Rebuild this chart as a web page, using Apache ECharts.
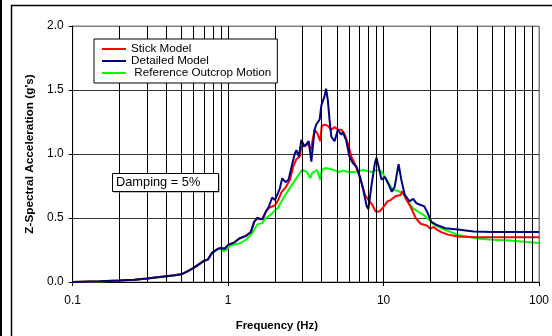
<!DOCTYPE html>
<html>
<head>
<meta charset="utf-8">
<script src="https://cdn.jsdelivr.net/npm/echarts@6/dist/echarts.min.js"></script>
<style>
html,body{margin:0;padding:0;background:#fff;}
#chart{width:552px;height:336px;}
</style>
</head>
<body>
<div id="chart"></div>
<script>
// ---- Data (frequency in Hz, spectral acceleration in g) ----
var stickFreq = [0.1,0.15,0.2,0.25,0.3,0.35,0.4,0.45,0.5,0.55,0.6,0.65,0.7,0.74,0.79,0.86,0.9,0.95,1.0,1.1,1.18,1.3,1.4,1.47,1.54,1.6,1.66,1.75,1.83,1.92,2.0,2.1,2.2,2.35,2.5,2.62,2.75,2.89,2.96,3.1,3.27,3.4,3.6,3.75,3.85,3.92,4.0,4.2,4.38,4.6,4.84,5.1,5.35,5.6,5.9,6.2,6.5,6.8,7.2,7.6,7.9,8.5,8.9,9.4,9.9,10.6,11.1,11.9,12.9,13.2,13.9,14.9,16.1,17.3,19.1,20.0,21.0,22.0,23.5,26,30,40,60,100];
var stickVal  = [0,0.005,0.012,0.018,0.027,0.037,0.045,0.052,0.06,0.085,0.11,0.14,0.165,0.175,0.23,0.26,0.265,0.26,0.29,0.31,0.34,0.36,0.39,0.47,0.5,0.49,0.49,0.55,0.58,0.59,0.60,0.64,0.70,0.74,0.80,0.90,0.96,0.98,1.06,1.06,1.08,1.03,1.19,1.16,1.17,1.10,1.22,1.23,1.22,1.19,1.21,1.19,1.19,1.16,1.08,0.98,0.93,0.87,0.78,0.68,0.65,0.60,0.55,0.55,0.58,0.63,0.64,0.67,0.68,0.71,0.65,0.59,0.50,0.455,0.44,0.415,0.43,0.41,0.39,0.37,0.355,0.35,0.35,0.35];

var detailFreq = [0.1,0.15,0.2,0.25,0.3,0.35,0.4,0.45,0.5,0.55,0.6,0.65,0.7,0.74,0.79,0.86,0.9,0.95,1.0,1.1,1.18,1.3,1.4,1.47,1.54,1.66,1.75,1.83,1.92,2.0,2.15,2.23,2.34,2.45,2.56,2.68,2.75,2.85,2.96,3.1,3.3,3.43,3.6,3.69,3.88,3.98,4.17,4.27,4.38,4.49,4.61,4.84,5.08,5.34,5.46,5.74,6.03,6.34,6.7,7.06,7.4,7.8,7.98,8.4,8.8,9.0,9.3,9.7,10.2,10.7,11.3,11.8,12.2,12.5,13.0,13.7,14.7,15.5,16.3,17.5,18.3,19.2,20.3,22,25,30,38,50,100];
var detailVal  = [0,0.005,0.012,0.018,0.027,0.037,0.045,0.052,0.06,0.085,0.11,0.14,0.165,0.175,0.23,0.26,0.265,0.26,0.29,0.31,0.34,0.36,0.39,0.47,0.5,0.49,0.55,0.59,0.66,0.64,0.73,0.81,0.78,0.80,0.90,1.0,1.03,0.98,1.11,1.06,1.10,0.94,1.19,1.23,1.27,1.38,1.45,1.51,1.42,1.27,1.135,1.10,1.19,1.15,1.17,1.11,0.98,0.93,0.90,0.82,0.72,0.59,0.57,0.77,0.93,0.97,0.90,0.80,0.82,0.77,0.705,0.745,0.85,0.92,0.80,0.68,0.63,0.65,0.615,0.60,0.59,0.54,0.47,0.445,0.42,0.41,0.395,0.39,0.39];

var refFreq = [0.1,0.15,0.2,0.25,0.3,0.35,0.4,0.45,0.5,0.55,0.6,0.65,0.7,0.74,0.79,0.86,0.9,0.93,0.97,1.02,1.07,1.18,1.3,1.43,1.54,1.66,1.74,1.88,2.0,2.1,2.23,2.45,2.71,2.85,2.99,3.21,3.38,3.46,3.73,3.92,4.01,4.22,4.65,5.13,5.5,6.0,6.5,7.0,7.4,8.0,8.4,9.0,9.6,10.2,10.7,11.3,11.8,12.7,13.7,14.3,15.5,16.7,18.3,19.8,21.3,24.6,29.7,40,50,65,80,100];
var refVal  = [0,0.004,0.011,0.017,0.025,0.035,0.043,0.05,0.06,0.083,0.11,0.135,0.17,0.175,0.225,0.255,0.26,0.24,0.25,0.28,0.29,0.30,0.33,0.38,0.45,0.46,0.50,0.525,0.56,0.58,0.64,0.72,0.80,0.84,0.875,0.86,0.81,0.85,0.875,0.80,0.875,0.89,0.88,0.86,0.87,0.86,0.86,0.87,0.875,0.865,0.86,0.875,0.87,0.82,0.78,0.73,0.72,0.705,0.68,0.63,0.575,0.55,0.52,0.48,0.445,0.41,0.37,0.34,0.33,0.325,0.315,0.305];

var seriesNames = ['Stick Model', 'Detailed Model', ' Reference Outcrop Motion'];
var xTickLabels = ['0.1', '1', '10', '100'];
var decadeStarts = [0.1, 1, 10];
var minorMultipliers = [2, 3, 4, 5, 6, 7, 8, 9];

function pairs(f, v) { return f.map(function (x, i) { return [x, v[i]]; }); }

var minorLines = [];
decadeStarts.forEach(function (d) {
  minorMultipliers.forEach(function (m) { minorLines.push({ xAxis: +(d * m).toPrecision(3) }); });
});

var FONT = 'Liberation Sans, Arial, sans-serif';
var chart = echarts.init(document.getElementById('chart'), null, { renderer: 'canvas' });

chart.setOption({
  animation: false,
  backgroundColor: '#fff',
  grid: {
    left: 72.7, right: 10.3, top: 26, bottom: 54,
    show: true, borderColor: '#808080', borderWidth: 1, backgroundColor: 'transparent'
  },
  legend: {
    data: seriesNames,
    left: 94, top: 39,
    orient: 'vertical',
    padding: [4, 6, 4, 8],
    itemGap: 0,
    itemWidth: 24,
    itemHeight: 2,
    itemTextGap: 2,
    icon: 'rect',
    backgroundColor: '#fff',
    borderColor: '#000',
    borderWidth: 1,
    textStyle: { fontFamily: FONT, fontSize: 11.7, lineHeight: 12, color: '#000' },
    z: 10
  },
  xAxis: {
    type: 'log', logBase: 10, min: 0.1, max: 100,
    name: 'Frequency (Hz)', nameLocation: 'middle', nameGap: 38,
    nameTextStyle: { fontFamily: FONT, fontSize: 11.4, fontWeight: 'bold', color: '#000', padding: [0, 58, 0, 0] },
    axisLine: { show: true, lineStyle: { color: '#000', width: 1 } },
    axisTick: { show: true, length: 4, lineStyle: { color: '#000' } },
    axisLabel: {
      fontFamily: FONT, fontSize: 12, color: '#000', margin: 13,
      formatter: function (v) {
        var idx = Math.round(Math.log10(v) + 1);
        return xTickLabels[idx] !== undefined ? xTickLabels[idx] : '';
      }
    },
    splitLine: { show: true, lineStyle: { color: ['#000', '#000', '#000', '#808080'], width: 1 } },
    minorTick: { show: false }
  },
  yAxis: {
    type: 'value', min: 0, max: 2, interval: 0.5,
    name: "Z-Spectral Acceleration (g's)", nameLocation: 'middle', nameGap: 34,
    nameTextStyle: { fontFamily: FONT, fontSize: 11.8, fontWeight: 'bold', color: '#000' },
    axisLine: { show: true, lineStyle: { color: '#000', width: 1 } },
    axisTick: { show: true, length: 4, lineStyle: { color: '#000' } },
    axisLabel: {
      fontFamily: FONT, fontSize: 12, color: '#000', margin: 9,
      formatter: function (v) { return v.toFixed(1); }
    },
    splitLine: { show: true, lineStyle: { color: ['#000', '#333', '#333', '#333', '#808080'], width: 1 } }
  },
  series: [
    {
      name: 'grid-minor', type: 'line', data: [], silent: true, z: 1,
      markLine: {
        silent: true, symbol: ['none', 'none'], animation: false,
        label: { show: false },
        lineStyle: { color: '#000', width: 1, type: 'solid' },
        emphasis: { disabled: true },
        data: minorLines
      }
    },
    {
      name: seriesNames[0], type: 'line', data: pairs(stickFreq, stickVal),
      showSymbol: false, symbol: 'none', color: '#ff0000',
      lineStyle: { color: '#ff0000', width: 2 }, z: 3
    },
    {
      name: seriesNames[1], type: 'line', data: pairs(detailFreq, detailVal),
      showSymbol: false, symbol: 'none', color: '#000080',
      lineStyle: { color: '#000080', width: 2 }, z: 4
    },
    {
      name: seriesNames[2], type: 'line', data: pairs(refFreq, refVal),
      showSymbol: false, symbol: 'none', color: '#00ff00',
      lineStyle: { color: '#00ff00', width: 2 }, z: 2
    }
  ],
  graphic: [
    { type: 'rect', z: 100, shape: { x: 0, y: 0, width: 2, height: 336 }, style: { fill: '#000' } },
    { type: 'rect', z: 100, shape: { x: 11.5, y: 5.5, width: 600, height: 400 }, style: { fill: 'none', stroke: '#000', lineWidth: 1.5 } },
    { type: 'rect', z: 100, shape: { x: 113.5, y: 174.5, width: 106, height: 18 }, style: { fill: '#808080' } },
    { type: 'rect', z: 101, shape: { x: 112.5, y: 173.5, width: 106, height: 18 }, style: { fill: '#fff', stroke: '#000', lineWidth: 1 } },
    { type: 'text', z: 102, x: 116, y: 182.5, style: { text: 'Damping = 5%', fontFamily: FONT, fontSize: 12.8, fill: '#000', textVerticalAlign: 'middle', verticalAlign: 'middle' } }
  ]
});
</script>
</body>
</html>
